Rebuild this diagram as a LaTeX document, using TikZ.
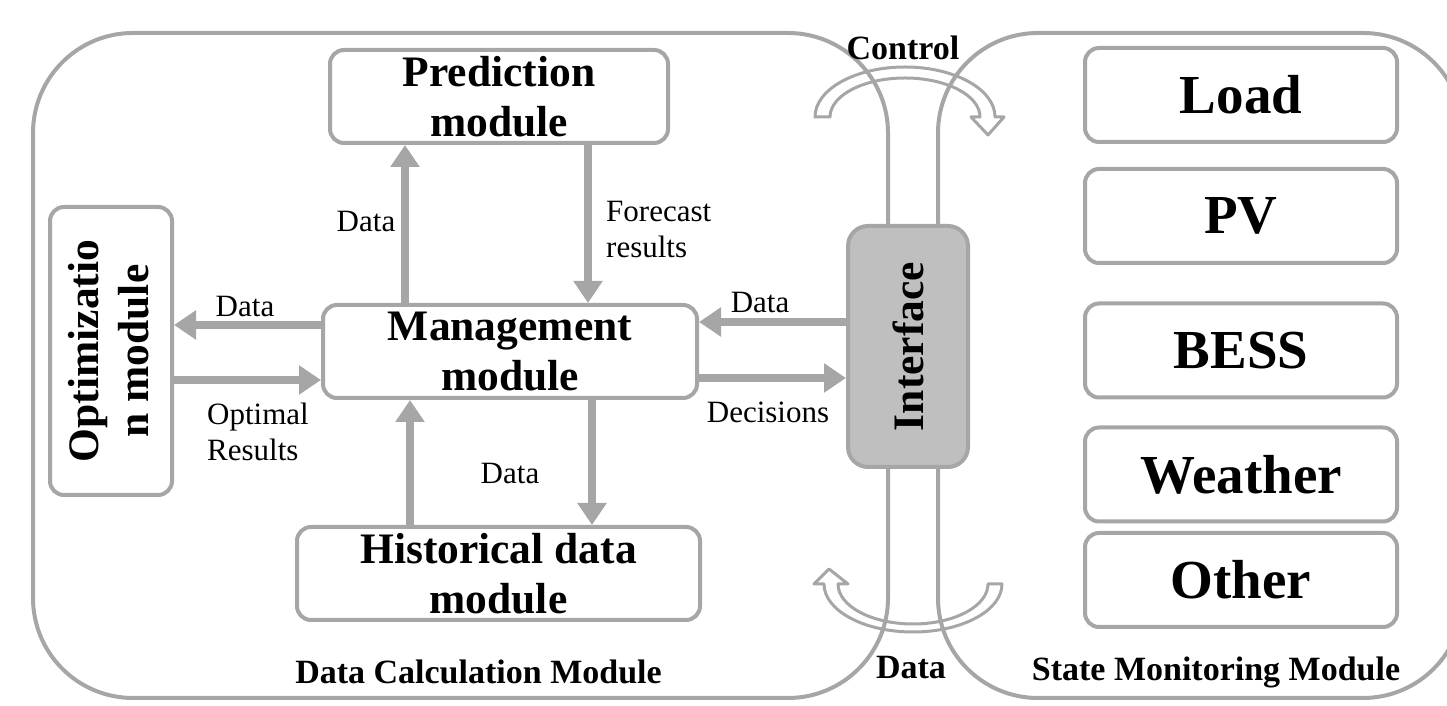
\documentclass[tikz,border=0pt]{standalone}
\usepackage{fontspec}
\setmainfont{Liberation Serif}
\usetikzlibrary{arrows.meta}
\definecolor{lg}{HTML}{A6A6A6}
\definecolor{ifill}{HTML}{BFBFBF}
\begin{document}
\begin{tikzpicture}[x=1pt,y=1pt,
  bigbox/.style={draw=lg, line width=4pt, rounded corners=100pt, inner sep=0pt},
  modbox/.style={draw=lg, line width=4pt, rounded corners=14pt, fill=white, align=center, inner sep=0pt, font=\fontsize{43.5}{50}\selectfont\bfseries},
  rbox/.style={draw=lg, line width=4pt, rounded corners=14pt, fill=white, inner sep=0pt, minimum width=312pt, minimum height=94pt, font=\fontsize{55}{60}\selectfont\bfseries},
  lbl/.style={inner sep=0pt, font=\fontsize{31}{36}\selectfont},
  ttl/.style={inner sep=0pt, font=\fontsize{34}{38}\selectfont\bfseries},
  arr/.style={draw=lg, line width=8pt, -{Triangle[length=22pt,width=28pt]}},
  curv/.style={draw=lg, line width=3pt, line join=round}
]
\useasboundingbox (0,0) rectangle (1447,706);

% outer modules
\node[bigbox, minimum width=855pt, minimum height=665pt] (dcmbox) at (460.5,340.5) {};
\node[bigbox, minimum width=525pt, minimum height=665pt] (smmbox) at (1200.5,340.5) {};

% curved arrows
\draw[curv] (815,589) arc[start angle=180,end angle=0,x radius=90,y radius=50]
  -- (1004,589) -- (988,571) -- (971,589) -- (980,589)
  arc[start angle=0,end angle=180,x radius=75,y radius=39] -- cycle;
\draw[curv] (1002,122) arc[start angle=0,end angle=-180,x radius=89,y radius=48]
  -- (814,122) -- (829,137) -- (848,122) -- (838,122)
  arc[start angle=180,end angle=360,x radius=75,y radius=40] -- cycle;

% module boxes
\node[modbox, minimum width=338pt, minimum height=93pt] (pred) at (499,609.5) {Prediction\\module};
\node[modbox, minimum width=374pt, minimum height=93pt] (mgmt) at (510,354.5) {Management\\module};
\node[modbox, minimum width=403pt, minimum height=93pt] (hist) at (498.5,132.5) {Historical data\\module};
\node[modbox, minimum width=122pt, minimum height=288pt] (optim) at (111,355) {};
\node[inner sep=0pt, align=center, rotate=90, font=\fontsize{43.5}{50}\selectfont\bfseries] (optimtxt) at ([xshift=-2pt]optim.center) {Optimizatio\\n module};

% interface
\node[draw=lg, line width=4pt, rounded corners=20pt, fill=ifill, inner sep=0pt, minimum width=120pt, minimum height=241pt] (iface) at (908,359.5) {};
\node[inner sep=0pt, rotate=90, font=\fontsize{43.5}{50}\selectfont\bfseries] (ifacetxt) at (iface.center) {Interface};

% right boxes
\node[rbox] (load) at (1241,611) {Load};
\node[rbox] (pv) at (1241,490) {PV};
\node[rbox] (bess) at (1241,355.5) {BESS};
\node[rbox] (weather) at (1241,231.5) {Weather};
\node[rbox] (other) at (1241,126) {Other};

% arrows
\draw[arr] ([xshift=-105pt]mgmt.north) -- ([xshift=-94pt]pred.south);
\draw[arr] ([xshift=89pt]pred.south) -- ([xshift=78pt]mgmt.north);
\draw[arr] ([yshift=26.5pt]mgmt.west) -- ([yshift=26pt]optim.east);
\draw[arr] ([yshift=-29pt]optim.east) -- ([yshift=-28.5pt]mgmt.west);
\draw[arr] ([xshift=-88.5pt]hist.north) -- ([xshift=-100pt]mgmt.south);
\draw[arr] ([xshift=82pt]mgmt.south) -- ([xshift=93.5pt]hist.north);
\draw[arr] ([yshift=24.5pt]iface.west) -- ([yshift=29.5pt]mgmt.east);
\draw[arr] ([yshift=-26.5pt]mgmt.east) -- ([yshift=-31.5pt]iface.west);

% labels
\node[lbl] (l1) at (366,484) {Data};
\node[lbl, anchor=west, align=left] (l2) at (606,476) {Forecast\\results};
\node[lbl] (l3) at (245,399) {Data};
\node[lbl, anchor=west, align=left] (l4) at (207,274) {Optimal\\Results};
\node[lbl] (l5) at (510,232) {Data};
\node[lbl] (l6) at (760,403) {Data};
\node[lbl] (l7) at (768,294) {Decisions};

% titles
\node[ttl] (t1) at (478.5,34) {Data Calculation Module};
\node[ttl] (t2) at (1216,34) {State Monitoring Module};
\node[ttl] (t3) at (903,658) {Control};
\node[ttl] (t4) at (911,38) {Data};
\end{tikzpicture}
\end{document}
